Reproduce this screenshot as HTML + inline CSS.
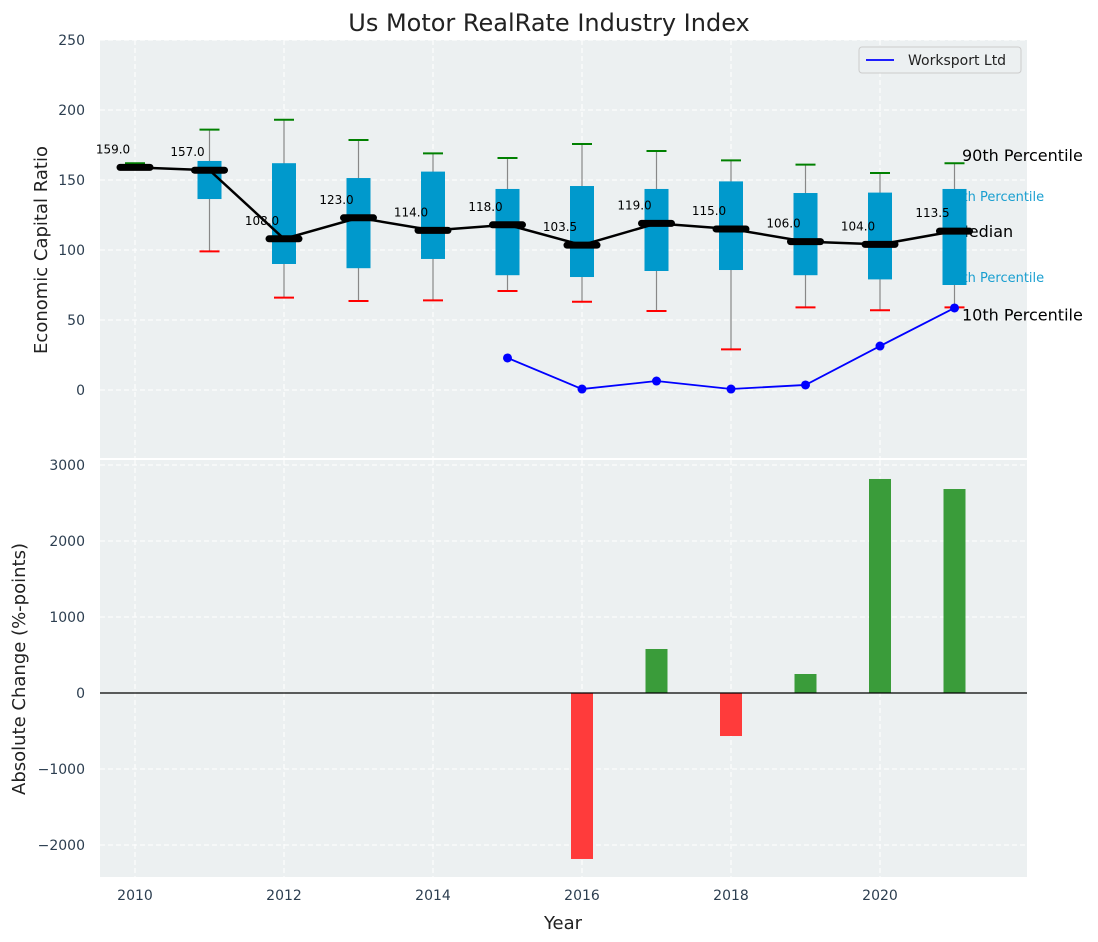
<!DOCTYPE html>
<html><head><meta charset="utf-8"><style>
body{margin:0;background:#fff}
svg{display:block;font-family:"DejaVu Sans","Liberation Sans",sans-serif}
</style></head><body>
<svg id="c" width="1098" height="942" viewBox="0 0 1098 942"></svg>
<script>
const years=[2010,2011,2012,2013,2014,2015,2016,2017,2018,2019,2020,2021];
const p10=[159,99,66,63.6,64,70.7,63,56.4,29,59,57,59];
const q1=[159,136.4,90,87,93.6,82,80.7,85,85.7,82,79,75];
const med=[159,157,108,123,114,118,103.5,119,115,106,104,113.5];
const q3=[159,163.6,162,151.4,156,143.6,145.7,143.6,149,140.7,141,143.6];
const p90=[162,186,193,178.6,169,165.7,175.7,170.7,164,161,155,162];
const medLabels=["159.0","157.0","108.0","123.0","114.0","118.0","103.5","119.0","115.0","106.0","104.0","113.5"];
const wsYears=[2015,2016,2017,2018,2019,2020,2021];
const wsVals=[22.9,0.7,6.4,0.7,3.6,31.4,58.6];
const barYears=[2016,2017,2018,2019,2020,2021];
const barVals=[-2184,579,-566,250,2816,2684];
const topTicks=[0,50,100,150,200,250];
const botTicks=[-2000,-1000,0,1000,2000,3000];
const xTicks=[2010,2012,2014,2016,2018,2020];

const svg=document.getElementById('c');const NS='http://www.w3.org/2000/svg';
function el(t,a,txt,p){const e=document.createElementNS(NS,t);for(const k in a)e.setAttribute(k,a[k]);if(txt!=null)e.textContent=txt;(p||svg).appendChild(e);return e;}
const L=100,R=1027;
const x=v=>135+(v-2010)*74.5;
const yT=v=>390-v*1.4;
const yB=v=>693-v*0.076;
let e;
e=el('rect',{x:L,y:40,width:R-L,height:418,fill:'#ecf0f1'});

e=el('rect',{x:L,y:460,width:R-L,height:417,fill:'#ecf0f1'});

xTicks.forEach(t=>{
 e=el('line',{x1:x(t),x2:x(t),y1:40,y2:458,stroke:'#fff','stroke-dasharray':'5,3','stroke-width':1});
 
 e=el('line',{x1:x(t),x2:x(t),y1:460,y2:877,stroke:'#fff','stroke-dasharray':'5,3','stroke-width':1});
 
 e=el('text',{x:x(t),y:900,'text-anchor':'middle','font-size':14,fill:'#2c3e50'},String(t));
 
});
topTicks.forEach(t=>{
 e=el('line',{x1:L,x2:R,y1:yT(t),y2:yT(t),stroke:'#fff','stroke-dasharray':'5,3'});
 
 e=el('text',{x:85,y:yT(t)+5,'text-anchor':'end','font-size':14,fill:'#2c3e50'},String(t));
 
});
botTicks.forEach(t=>{
 e=el('line',{x1:L,x2:R,y1:yB(t),y2:yB(t),stroke:'#fff','stroke-dasharray':'5,3'});
 
 e=el('text',{x:85,y:yB(t)+5,'text-anchor':'end','font-size':14,fill:'#2c3e50'},String(t).replace('-','\u2212'));
 
});
[['90th Percentile',yT(p90[11])-2,16,'#000',962],['75th Percentile',yT(q3[11])+12,13,'#1a9fd0',946],['Median',yT(med[11])+6,16,'#000',955],['25th Percentile',yT(q1[11])-3,13,'#1a9fd0',946],['10th Percentile',yT(p10[11])+13,16,'#000',962]].forEach(a=>{
 e=el('text',{x:a[4],y:a[1],'font-size':a[2],fill:a[3]},a[0]);
 
});
years.forEach((yr,i)=>{
 const cx=x(yr);
 e=el('line',{x1:cx,x2:cx,y1:yT(p90[i]),y2:yT(p10[i]),stroke:'#888','stroke-width':1.2});
 
 e=el('rect',{x:cx-12,y:yT(q3[i]),width:24,height:Math.max(0,yT(q1[i])-yT(q3[i])),fill:'#0099cc'});
 
 e=el('line',{x1:cx-10,x2:cx+10,y1:yT(p90[i]),y2:yT(p90[i]),stroke:'green','stroke-width':2});
 
 e=el('line',{x1:cx-10,x2:cx+10,y1:yT(p10[i]),y2:yT(p10[i]),stroke:'red','stroke-width':2});
 
});
e=el('polyline',{points:years.map((yr,i)=>x(yr)+','+yT(med[i])).join(' '),fill:'none',stroke:'#000','stroke-width':2.5});

years.forEach((yr,i)=>{
 e=el('line',{x1:x(yr)-15,x2:x(yr)+15,y1:yT(med[i]),y2:yT(med[i]),stroke:'#000','stroke-width':7,'stroke-linecap':'round'});
 
 e=el('text',{x:x(yr)-22,y:yT(med[i])-14,'text-anchor':'middle','font-size':12,fill:'#000'},medLabels[i]);
 
});
e=el('polyline',{points:wsYears.map((yr,i)=>x(yr)+','+yT(wsVals[i])).join(' '),fill:'none',stroke:'#0000ff','stroke-width':1.8});

wsYears.forEach((yr,i)=>{e=el('circle',{cx:x(yr),cy:yT(wsVals[i]),r:4.5,fill:'#0000ff'});
 });
const g=el('g',{});
el('rect',{x:859,y:47,width:162,height:26,rx:3,fill:'#ecf0f1',stroke:'#ccc'},null,g);
el('line',{x1:866,x2:894,y1:60,y2:60,stroke:'#0000ff','stroke-width':1.8},null,g);
el('text',{x:908,y:65,'font-size':14,fill:'#222'},'Worksport Ltd',g);
barYears.forEach((yr,i)=>{
 const v=barVals[i];const y0=yB(0),y1=yB(v);
 e=el('rect',{x:x(yr)-11,y:Math.min(y0,y1),width:22,height:Math.abs(y1-y0),fill:v>=0?'#3a9c3a':'#ff3b3b'});
 
});
e=el('line',{x1:L,x2:R,y1:yB(0),y2:yB(0),stroke:'#000','stroke-width':1.2});

e=el('text',{x:549,y:31,'text-anchor':'middle','font-size':24,fill:'#222'},'Us Motor RealRate Industry Index');

e=el('text',{x:563,y:929,'text-anchor':'middle','font-size':18,fill:'#222'},'Year');

e=el('text',{x:0,y:0,'text-anchor':'middle','font-size':18,fill:'#222',transform:'translate(47,250) rotate(-90)'},'Economic Capital Ratio');

e=el('text',{x:0,y:0,'text-anchor':'middle','font-size':18,fill:'#222',transform:'translate(25,669) rotate(-90)'},'Absolute Change (%-points)');

</script>
</body></html>
